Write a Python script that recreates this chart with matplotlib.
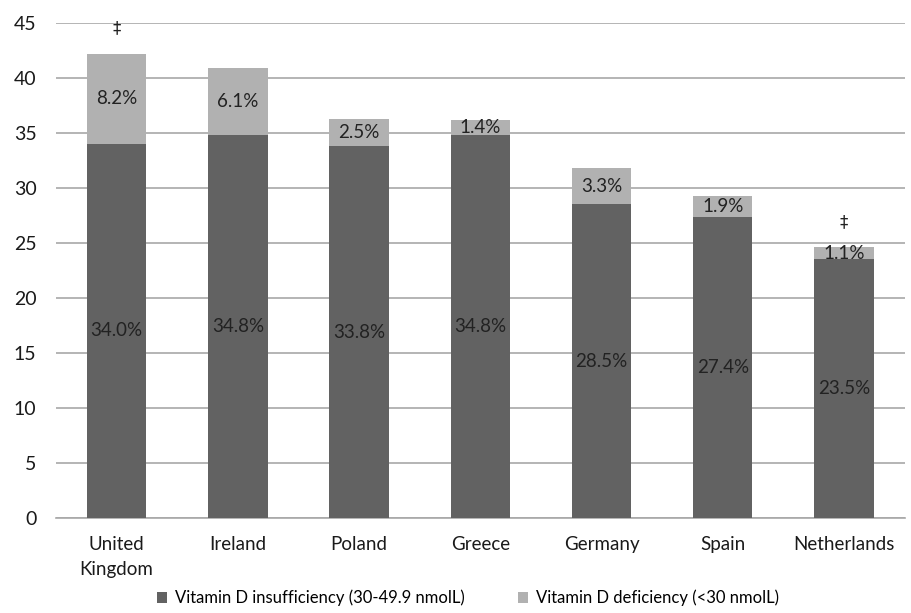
import matplotlib.pyplot as plt

countries = ["United\nKingdom", "Ireland", "Poland", "Greece", "Germany", "Spain", "Netherlands"]
insufficiency = [34.0, 34.8, 33.8, 34.8, 28.5, 27.4, 23.5]
deficiency = [8.2, 6.1, 2.5, 1.4, 3.3, 1.9, 1.1]
dagger = [True, False, False, False, False, False, True]

plt.rcParams['font.family'] = ['Lato', 'DejaVu Sans']

dark = '#626262'
light = '#b1b1b1'

fig = plt.figure(figsize=(9.11, 6.13), dpi=100)
ax = fig.add_axes([0.0615, 0.155, 0.9315, 0.8075])

x = range(len(countries))
ax.bar(x, insufficiency, width=0.49, color=dark, label='Vitamin D insufficiency (30-49.9 nmolL)', zorder=3)
ax.bar(x, deficiency, width=0.49, bottom=insufficiency, color=light,
       label='Vitamin D deficiency (<30 nmolL)', zorder=3)

# data labels centred in each segment, dagger above two bars
for i in x:
    lo = insufficiency[i]
    hi = deficiency[i]
    ax.text(i, lo / 2, f"{lo:.1f}%", ha='center', va='center', fontsize=13.5, color='#222222', zorder=4)
    ax.text(i, lo + hi / 2, f"{hi:.1f}%", ha='center', va='center', fontsize=13.5, color='#222222', zorder=4)
    if dagger[i]:
        ax.text(i, lo + hi + 2.3, "‡", ha='center', va='center', fontsize=12, color='#222222',
                family=['DejaVu Sans'])

ax.set_ylim(0, 45)
ax.set_xlim(-0.5, len(countries) - 0.5)
ax.set_yticks(range(0, 46, 5))
ax.set_xticks(list(x))
ax.set_xticklabels(countries, linespacing=1.55)
ax.yaxis.grid(True, color='#a8a8a8', linewidth=1.2, zorder=0)
for s in ['top', 'right', 'left']:
    ax.spines[s].set_visible(False)
ax.spines['bottom'].set_color('#a8a8a8')
ax.spines['bottom'].set_linewidth(1.2)
ax.tick_params(axis='y', length=0, labelsize=14, pad=14, labelcolor='#1a1a1a')
ax.tick_params(axis='x', length=0, labelsize=13.5, pad=13, labelcolor='#1a1a1a')

fig.legend(loc='center', bbox_to_anchor=(468 / 911, 1 - 598 / 613), ncol=2, frameon=False, fontsize=12,
           handlelength=0.6, handleheight=0.6, columnspacing=3.2, handletextpad=0.5)

fig.savefig('out.png', dpi=100)
